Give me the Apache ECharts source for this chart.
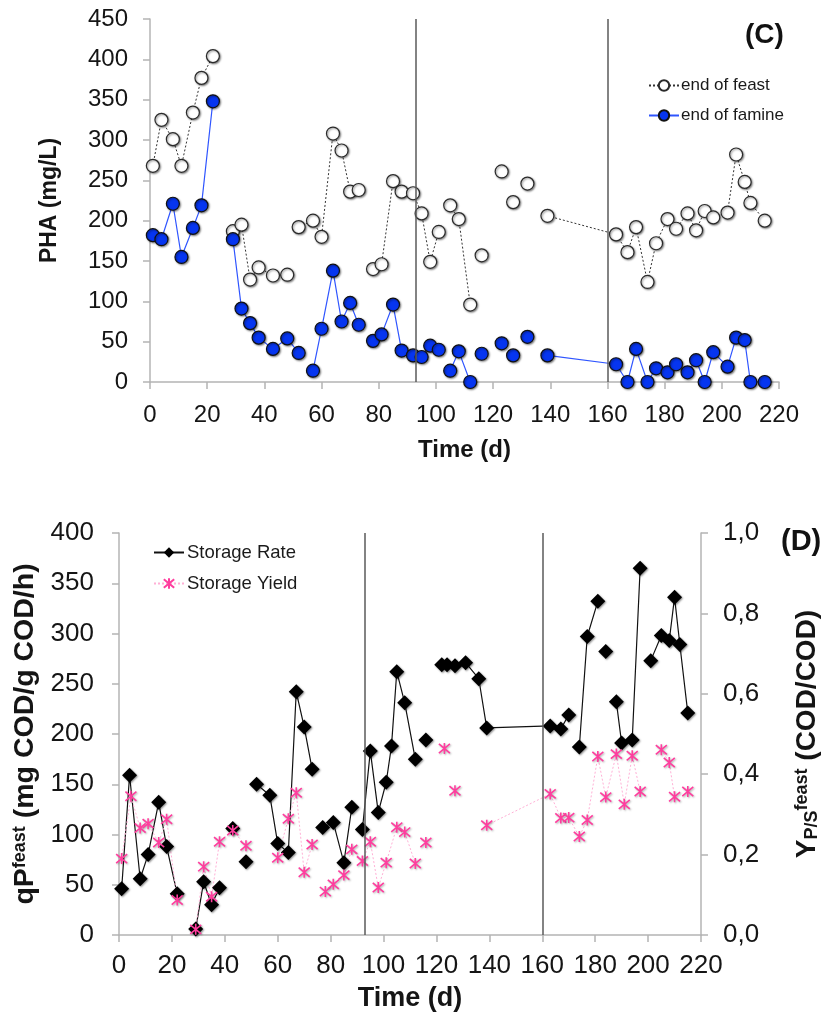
<!DOCTYPE html>
<html>
<head>
<meta charset="utf-8">
<script src="https://cdn.jsdelivr.net/npm/echarts@6/dist/echarts.min.js"></script>
<style>
  html, body { margin: 0; padding: 0; background: #fff; }
  #main { width: 829px; height: 1023px; }
</style>
</head>
<body>
<div id="main"></div>
<script>
// panel C: PHA at end of feast / end of famine
const cDays = [1, 4, 8, 11, 15, 18, 22, 29, 32, 35, 38, 43, 48, 52, 57, 60, 64, 67, 70, 73,
  78, 81, 85, 88, 92, 95, 98, 101, 105, 108, 112, 116, 123, 127, 132, 139,
  163, 167, 170, 174, 177, 181, 184, 188, 191, 194, 197, 202, 205, 208, 210, 215];
const feast = [268, 325, 301, 268, 334, 377, 404, 187, 195, 127, 142, 132, 133, 192, 200, 180, 308, 287, 236, 238,
  140, 146, 249, 236, 234, 209, 149, 186, 219, 202, 96, 157, 261, 223, 246, 206,
  183, 161, 192, 124, 172, 202, 190, 209, 188, 212, 204, 210, 282, 248, 222, 200];
const famine = [182, 177, 221, 155, 191, 219, 348, 177, 91, 73, 55, 41, 54, 36, 14, 66, 138, 75, 98, 71,
  51, 59, 96, 39, 33, 31, 45, 40, 14, 38, 0, 35, 48, 33, 56, 33,
  22, 0, 41, 0, 17, 12, 22, 12, 27, 0, 37, 19, 55, 52, 0, 0];
// days after which the line is broken
const feastBreaks = [22, 48, 73, 101, 112, 116, 123, 127, 132];
const famineBreaks = [22, 52, 73, 101, 112, 116, 123, 127, 132];

// panel D: storage rate and storage yield
const rateDays = [1, 4, 8, 11, 15, 18, 22, 29, 32, 35, 38, 43, 48, 52, 57, 60, 64, 67, 70, 73,
  77, 81, 85, 88, 92, 95, 98, 101, 103, 105, 108, 112, 116, 122, 124, 127, 131, 136, 139,
  163, 167, 170, 174, 177, 181, 184, 188, 190, 194, 197, 201, 205, 208, 210, 212, 215];
const rate = [46, 159, 56, 80, 132, 88, 41, 6, 53, 30, 47, 106, 73, 150, 139, 91, 82, 242, 207, 165,
  107, 112, 72, 127, 105, 183, 122, 152, 188, 262, 231, 175, 194, 269, 269, 268, 271, 255, 206,
  208, 205, 219, 187, 297, 332, 282, 232, 191, 194, 365, 273, 298, 293, 336, 289, 221];
const rateBreaks = [22, 38, 43, 48, 73, 88, 112, 116, 170, 181, 184, 197];

const yieldDays = [1, 4.5, 8, 11, 15, 18, 22, 29, 32, 35, 38, 43, 48, 60, 64, 67, 70, 73,
  78, 81, 85, 88, 92, 95, 98, 101, 105, 108, 112, 116, 123, 127, 139,
  163, 167, 170, 174, 177, 181, 184, 188, 191, 194, 197, 205, 208, 210, 215];
const yieldVals = [0.19, 0.345, 0.266, 0.277, 0.23, 0.288, 0.087, 0.014, 0.17, 0.095, 0.232, 0.26, 0.222,
  0.192, 0.289, 0.354, 0.156, 0.225,
  0.108, 0.126, 0.149, 0.213, 0.184, 0.232, 0.118, 0.18, 0.268, 0.256, 0.178,
  0.23, 0.464, 0.359, 0.273,
  0.351, 0.291, 0.292, 0.245, 0.286, 0.444, 0.343, 0.45, 0.325, 0.446, 0.357, 0.461, 0.429, 0.344, 0.357];
const yieldBreaks = [22, 48, 73, 112, 116, 123, 127, 197, 210];

const phaseLines = [93, 160];

function withBreaks(days, vals, breaks) {
  const out = [];
  days.forEach((d, i) => {
    out.push([d, vals[i]]);
    if (breaks.includes(d)) out.push([d + 0.5, '-']);
  });
  return out;
}

const FONT = '"Liberation Sans", Arial, Helvetica, sans-serif';
const axisGray = '#b4b4b4';
const shadow = { shadowColor: 'rgba(0,0,0,0.45)', shadowBlur: 2, shadowOffsetX: 1, shadowOffsetY: 1 };

function xAxisDef(grid, fs, nameFs, gap, margin) {
  return {
    gridIndex: grid, type: 'value', min: 0, max: 220, interval: 20,
    axisLine: { show: true, lineStyle: { color: axisGray, width: 1.5 } },
    axisTick: { show: true, length: 7, lineStyle: { color: axisGray, width: 1.5 } },
    splitLine: { show: false },
    axisLabel: { fontSize: fs, color: '#151515', fontFamily: FONT, margin: margin },
    name: 'Time (d)', nameLocation: 'middle', nameGap: gap,
    nameTextStyle: { fontSize: nameFs, fontWeight: 'bold', color: '#151515', fontFamily: FONT }
  };
}

const markLineDef = {
  silent: true, symbol: 'none', label: { show: false },
  lineStyle: { color: '#5a5a5a', width: 1.5, type: 'solid' },
  data: phaseLines.map(d => ({ xAxis: d }))
};

const chart = echarts.init(document.getElementById('main'));
chart.setOption({
  animation: false,
  backgroundColor: '#fff',
  textStyle: { fontFamily: FONT },
  grid: [
    { left: 150, top: 19, width: 629, height: 363 },
    { left: 119, top: 533, width: 591, height: 402 }
  ],
  xAxis: [
    xAxisDef(0, 24, 24, 56, 21),
    xAxisDef(1, 26, 27, 50, 18)
  ],
  yAxis: [
    {
      gridIndex: 0, type: 'value', min: 0, max: 450, interval: 50,
      axisLine: { show: true, lineStyle: { color: axisGray, width: 1.5 } },
      axisTick: { show: true, length: 7, lineStyle: { color: axisGray, width: 1.5 } },
      splitLine: { show: false },
      axisLabel: { fontSize: 24, color: '#151515', margin: 22 },
      name: 'PHA (mg/L)', nameLocation: 'middle', nameGap: 89, nameRotate: 90,
      nameTextStyle: { fontSize: 23, fontWeight: 'bold', color: '#151515' }
    },
    {
      gridIndex: 1, type: 'value', min: 0, max: 400, interval: 50,
      axisLine: { show: true, lineStyle: { color: axisGray, width: 1.5 } },
      axisTick: { show: true, length: 7, lineStyle: { color: axisGray, width: 1.5 } },
      splitLine: { show: false },
      axisLabel: { fontSize: 26, color: '#151515', margin: 25 },
      name: '{b|qP}{s|feast}{b| (mg COD/g COD/h)}', nameLocation: 'middle', nameGap: 74, nameRotate: 90,
      nameTextStyle: {
        rich: {
          b: { fontSize: 28.5, fontWeight: 'bold', color: '#151515', fontFamily: FONT },
          s: { fontSize: 18, fontWeight: 'bold', color: '#151515', fontFamily: FONT, verticalAlign: 'top' }
        }
      }
    },
    {
      gridIndex: 1, type: 'value', position: 'right', min: 0, max: 1, interval: 0.2,
      axisLine: { show: true, lineStyle: { color: axisGray, width: 1.5 } },
      axisTick: { show: true, length: 7, lineStyle: { color: axisGray, width: 1.5 } },
      splitLine: { show: false },
      axisLabel: { fontSize: 26, color: '#151515', margin: 22, formatter: v => v.toFixed(1).replace('.', ',') },
      name: '{b|Y}{sub|P/S}{s|feast}{b| (COD/COD)}', nameLocation: 'middle', nameGap: 92, nameRotate: 90,
      nameTextStyle: {
        rich: {
          b: { fontSize: 28, fontWeight: 'bold', color: '#151515', fontFamily: FONT },
          sub: { fontSize: 18, fontWeight: 'bold', color: '#151515', fontFamily: FONT, verticalAlign: 'bottom' },
          s: { fontSize: 18, fontWeight: 'bold', color: '#151515', fontFamily: FONT, verticalAlign: 'top' }
        }
      }
    }
  ],
  legend: [
    {
      left: 643, top: 72, orient: 'vertical', itemWidth: 30, itemHeight: 13, itemGap: 13,
      textStyle: { fontSize: 17, color: '#1a1a1a', padding: [0, 0, 0, -3] },
      data: ['end of feast', 'end of famine']
    },
    {
      left: 148, top: 538, orient: 'vertical', itemWidth: 30, itemHeight: 13, itemGap: 12,
      textStyle: { fontSize: 18.5, color: '#1a1a1a', padding: [0, 0, 0, -2] },
      data: ['Storage Rate', 'Storage Yield']
    }
  ],
  graphic: [
    { type: 'text', left: 745, top: 21, style: { text: '(C)', fontSize: 28, fontWeight: 'bold', fill: '#111', fontFamily: FONT } },
    { type: 'text', left: 781, top: 527, style: { text: '(D)', fontSize: 29, fontWeight: 'bold', fill: '#111', fontFamily: FONT } }
  ],
  series: [
    {
      name: 'end of feast', type: 'line', xAxisIndex: 0, yAxisIndex: 0,
      data: withBreaks(cDays, feast, feastBreaks),
      symbol: 'circle', symbolSize: 13, connectNulls: false,
      itemStyle: Object.assign({ color: '#fff', borderColor: '#2a2a2a', borderWidth: 1.2 }, shadow),
      lineStyle: { color: '#333', width: 1, type: [2, 2] },
      markLine: markLineDef
    },
    {
      name: 'end of famine', type: 'line', xAxisIndex: 0, yAxisIndex: 0,
      data: withBreaks(cDays, famine, famineBreaks),
      symbol: 'circle', symbolSize: 13, connectNulls: false,
      itemStyle: Object.assign({ color: '#0635f0', borderColor: '#111', borderWidth: 1.2 }, shadow),
      lineStyle: { color: '#2f55ff', width: 1.2 }
    },
    {
      name: 'Storage Rate', type: 'line', xAxisIndex: 1, yAxisIndex: 1,
      data: withBreaks(rateDays, rate, rateBreaks),
      symbol: 'diamond', symbolSize: 15, connectNulls: false,
      itemStyle: Object.assign({ color: '#000', borderColor: '#000', borderWidth: 0 }, shadow),
      lineStyle: { color: '#111', width: 1.2 },
      markLine: markLineDef
    },
    {
      name: 'Storage Yield', type: 'line', xAxisIndex: 1, yAxisIndex: 2,
      data: withBreaks(yieldDays, yieldVals, yieldBreaks),
      symbol: 'path://M0,0L10,10M10,0L0,10M5,-1L5,11', symbolSize: 11, connectNulls: false,
      itemStyle: { color: 'rgba(0,0,0,0)', borderColor: '#ff3d9e', borderWidth: 1.6,
        shadowColor: 'rgba(0,0,0,0.3)', shadowBlur: 2, shadowOffsetX: 1, shadowOffsetY: 1 },
      lineStyle: { color: '#ffb0d6', width: 1, type: [2, 2] }
    }
  ]
});
</script>
</body>
</html>
